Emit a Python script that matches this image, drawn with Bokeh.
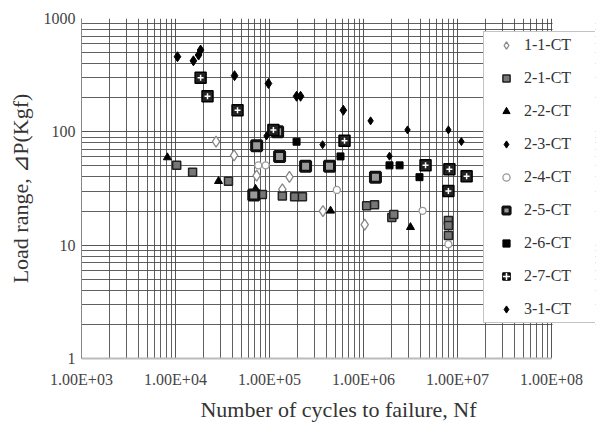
from bokeh.plotting import figure
from bokeh.models import (FixedTicker, CustomJSTickFormatter, Legend, LegendItem,
                          BoxAnnotation)
from bokeh.embed import file_html
from bokeh.resources import INLINE

# ---- data ----
n_11 = [2.7e4, 4.2e4, 7.3e4, 1.37e5, 1.63e5, 3.7e5, 1.03e6]
p_11 = [82, 62, 41, 31, 40, 20, 15.2]

n_21 = [1.03e4, 1.52e4, 3.66e4, 8.4e4, 1.37e5, 1.85e5, 2.24e5, 1.08e6, 1.31e6,
        2.0e6, 2.1e6, 8.0e6, 8.0e6, 8.0e6]
p_21 = [50.6, 44, 36.7, 28, 27.2, 26.7, 26.7, 22.3, 22.7, 17.5, 18.6, 16.5, 14.9, 12.2]

n_22 = [8.2e3, 2.87e4, 7.1e4, 4.46e5, 3.16e6]
p_22 = [59.4, 36.7, 31.3, 20.1, 14.4]

n_23 = [1.05e4, 1.55e4, 1.76e4, 1.85e4, 4.25e4, 9.75e4, 1.94e5, 2.14e5, 6.1e5]
p_23 = [460, 423, 476, 527, 313, 267, 206, 206, 155]

n_24 = [7.6e4, 9.1e4, 5.2e5, 4.25e6, 8.0e6]
p_24 = [50.6, 50.6, 30.7, 20.1, 10.2]

n_25 = [7.3e4, 1.22e5, 1.28e5, 2.42e5, 4.35e5, 1.34e6, 6.8e4]
p_25 = [75.5, 100, 60.7, 49.7, 49.7, 39.8, 27.7]

n_26 = [1.94e5, 5.69e5, 1.89e6, 2.42e6, 3.94e6]
p_26 = [81.8, 60.7, 50.6, 50.6, 39.8]

n_27 = [1.85e4, 2.19e4, 4.57e4, 1.1e5, 6.28e5, 4.57e6, 8.2e6, 1.25e7, 8.0e6]
p_27 = [300, 206, 155, 104, 83.6, 50.6, 46.8, 40.6, 30]

n_31 = [1.19e6, 2.94e6, 8.0e6, 1.1e7, 9.3e4, 3.67e5, 1.89e6]
p_31 = [125, 104, 104, 82, 92, 77, 61]

x_ticks = [1e3, 1e4, 1e5, 1e6, 1e7, 1e8]
x_tick_labels = ["1.00E+03", "1.00E+04", "1.00E+05", "1.00E+06", "1.00E+07", "1.00E+08"]
y_ticks = [1, 10, 100, 1000]
y_tick_labels = ["1", "10", "100", "1000"]

FONT = "Liberation Serif"

# frame extends a little past 1e8 so the legend can sit over the right edge
p = figure(width=602, height=424, x_axis_type="log", y_axis_type="log",
           x_range=(1e3, 10 ** 8.468), y_range=(1, 1000),
           output_backend="svg", toolbar_location=None,
           min_border_left=81, min_border_right=7, min_border_top=18,
           min_border_bottom=62)
p.background_fill_color = "white"
p.border_fill_color = "white"
p.outline_line_color = None

x_minor = [k * 10 ** e for e in range(3, 8) for k in range(2, 10)]
y_minor = [k * 10 ** e for e in range(0, 3) for k in range(2, 10)]
p.xaxis.ticker = FixedTicker(ticks=x_ticks, minor_ticks=x_minor)
p.yaxis.ticker = FixedTicker(ticks=y_ticks, minor_ticks=y_minor)
p.xaxis.bounds = (1e3, 1e8)

fmt_code = """
const i = tvals.findIndex(t => Math.abs(Math.log10(t) - Math.log10(tick)) < 1e-6);
return i >= 0 ? tlabels[i] : '';
"""
p.xaxis.formatter = CustomJSTickFormatter(args=dict(tvals=x_ticks, tlabels=x_tick_labels), code=fmt_code)
p.yaxis.formatter = CustomJSTickFormatter(args=dict(tvals=y_ticks, tlabels=y_tick_labels), code=fmt_code)

for ax in (p.xaxis, p.yaxis):
    ax.major_tick_out = 0
    ax.major_tick_in = 0
    ax.minor_tick_out = 0
    ax.minor_tick_in = 0
    ax.major_label_text_font = FONT
    ax.major_label_text_font_size = "16px"
    ax.major_label_text_color = "#444444"
    ax.axis_label_text_font = FONT
    ax.axis_label_text_font_size = "22px"
    ax.axis_label_text_font_style = "normal"
    ax.axis_label_text_color = "#333333"

p.xaxis.axis_line_color = "#bbbbbb"
p.xaxis.axis_line_width = 2
p.yaxis.axis_line_color = "#888888"
p.xaxis.major_label_standoff = 12
p.yaxis.major_label_standoff = 6
p.xaxis.axis_label_standoff = 6
p.yaxis.axis_label_standoff = 8
p.xaxis.axis_label = "Number of cycles to failure, Nf"
p.yaxis.axis_label = "Load range, \u22bfP(Kgf)"

for g in (p.xgrid, p.ygrid):
    g.grid_line_color = "#444444"
    g.grid_line_width = 1
    g.grid_line_alpha = 0.9
    g.minor_grid_line_color = "#444444"
    g.minor_grid_line_width = 1
    g.minor_grid_line_alpha = 0.85

r11 = p.scatter(n_11, p_11, marker="diamond", size=11, fill_color="white",
                line_color="#888888", line_width=1.3)
r21 = p.scatter(n_21, p_21, marker="square", size=8, fill_color="#777777",
                line_color="#222222", line_width=1.5)
r22 = p.scatter(n_22, p_22, marker="triangle", size=8, fill_color="black",
                line_color="black")
r23 = p.scatter(n_23, p_23, marker="diamond", size=10, fill_color="black",
                line_color="black")
r24 = p.scatter(n_24, p_24, marker="circle", size=7, fill_color="white",
                line_color="#999999", line_width=1.3)
r25 = p.scatter(n_25, p_25, marker="square", size=10, fill_color="#9a9a9a",
                line_color="#111111", line_width=3)
r26 = p.scatter(n_26, p_26, marker="square", size=7, fill_color="black",
                line_color="black")
r27 = p.scatter(n_27, p_27, marker="square", size=11, fill_color="#222222",
                line_color="black", line_width=1.5)
r27b = p.scatter(n_27, p_27, marker="cross", size=6, line_color="white",
                 line_width=1.5)
r31 = p.scatter(n_31, p_31, marker="diamond", size=8, fill_color="black",
                line_color="black")

# blank out the strip to the right of 1e8
p.add_layout(BoxAnnotation(left=1.025e8, fill_color="white", fill_alpha=1.0,
                           line_color=None))

items = [
    LegendItem(label="1-1-CT", renderers=[r11]),
    LegendItem(label="2-1-CT", renderers=[r21]),
    LegendItem(label="2-2-CT", renderers=[r22]),
    LegendItem(label="2-3-CT", renderers=[r23]),
    LegendItem(label="2-4-CT", renderers=[r24]),
    LegendItem(label="2-5-CT", renderers=[r25]),
    LegendItem(label="2-6-CT", renderers=[r26]),
    LegendItem(label="2-7-CT", renderers=[r27, r27b]),
    LegendItem(label="3-1-CT", renderers=[r31]),
]
legend = Legend(items=items, location=(402, 35))
legend.padding = 4
legend.margin = 0
legend.spacing = 15
legend.label_height = 18
legend.glyph_height = 18
legend.glyph_width = 36
legend.label_standoff = 0
legend.label_width = 67
legend.label_text_font = FONT
legend.label_text_font_size = "16px"
legend.label_text_color = "#333333"
legend.border_line_color = "#888888"
legend.border_line_width = 1
legend.background_fill_color = "white"
legend.background_fill_alpha = 1.0
p.add_layout(legend, "center")

open("out.html", "w").write(file_html(p, INLINE))
